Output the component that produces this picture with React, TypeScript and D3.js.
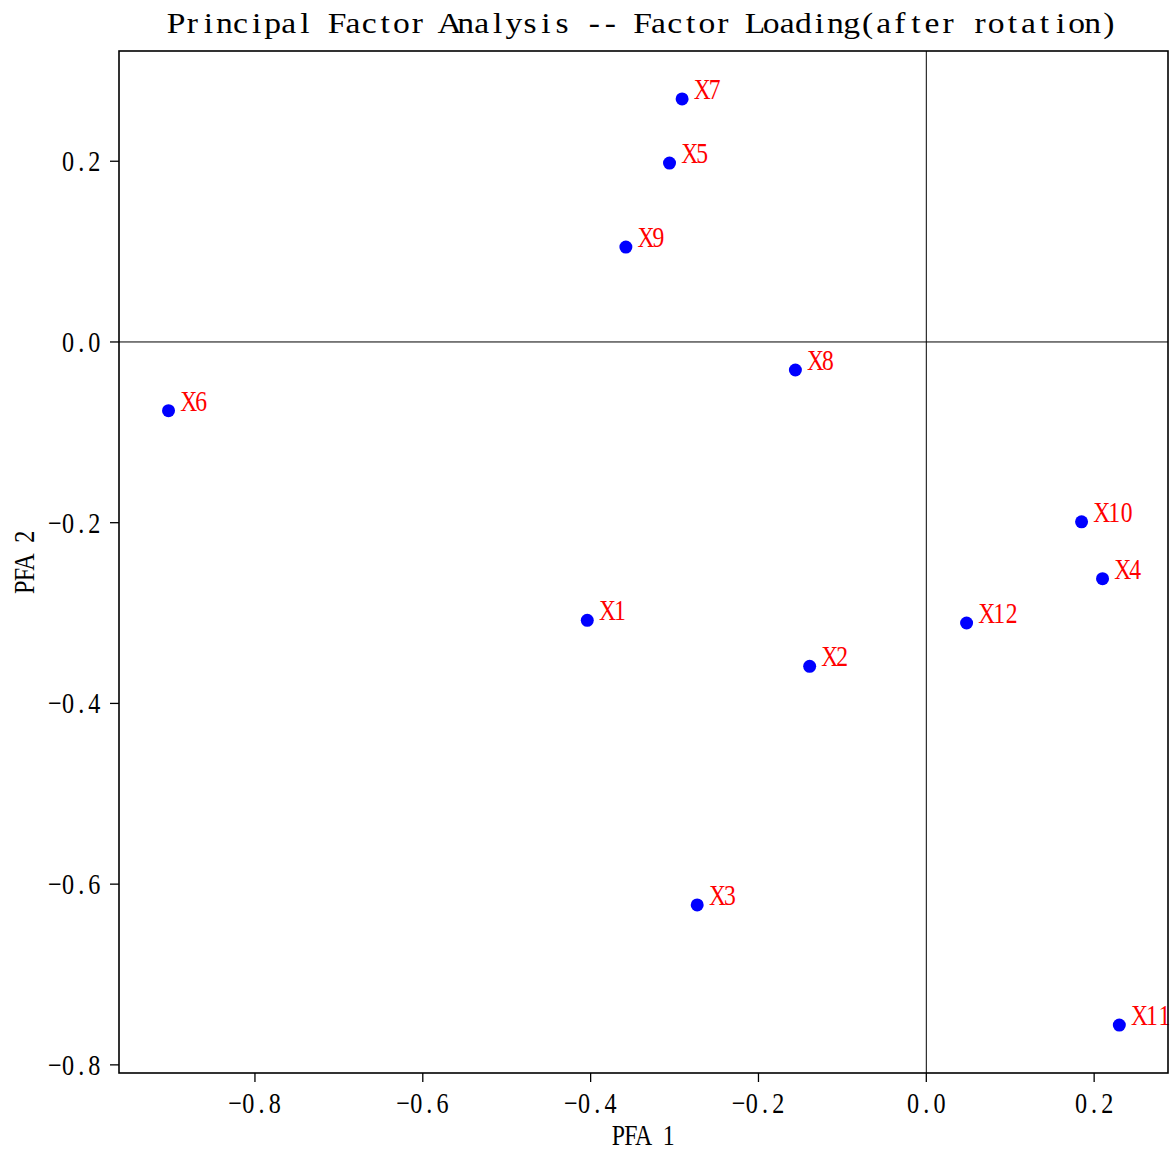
import React from "react";
import * as d3 from "d3";

const labels = ["X1", "X2", "X3", "X4", "X5", "X6", "X7", "X8", "X9", "X10", "X11", "X12"];
const pfa1 = [-0.404, -0.139, -0.273, 0.21, -0.306, -0.903, -0.291, -0.156, -0.358, 0.185, 0.23, 0.048];
const pfa2 = [-0.308, -0.359, -0.623, -0.262, 0.198, -0.076, 0.269, -0.031, 0.105, -0.199, -0.756, -0.311];
const xTicks = [-0.8, -0.6, -0.4, -0.2, 0.0, 0.2];
const yTicks = [0.2, 0.0, -0.2, -0.4, -0.6, -0.8];

const W = 1173, H = 1151;
const L = 119, R = 1168, T = 51, B = 1073;
const FONT = "'Liberation Serif', 'DejaVu Serif', serif";

function fmt(v: number) {
  const s = v.toFixed(1);
  return s.replace("-", "\u2212");
}

type MTProps = {
  x: number;
  y: number;
  text: string;
  adv: number;
  size: number;
  sx: number;
  anchor?: "start" | "middle" | "end";
  fill?: string;
  rotate?: number;
};

// Monospaced layout: one <text>, each character centred in its own cell.
function MonoText({ x, y, text, adv, size, sx, anchor = "start", fill = "#000", rotate = 0 }: MTProps) {
  const chars = Array.from(text);
  const total = chars.length * adv;
  const start = anchor === "start" ? 0 : anchor === "middle" ? -total / 2 : -total;
  const xs = chars.map((_, i) => ((start + (i + 0.5) * adv) / sx).toFixed(2)).join(" ");
  return (
    <text
      transform={`translate(${x},${y}) rotate(${rotate}) scale(${sx},1)`}
      x={xs}
      y={0}
      textAnchor="middle"
      fontFamily={FONT}
      fontSize={size}
      fill={fill}
      style={{ whiteSpace: "pre" }}
    >
      {text}
    </text>
  );
}

export default function App() {
  const x = d3.scaleLinear().domain([-0.962, 0.288]).range([L, R]);
  const y = d3.scaleLinear().domain([-0.809, 0.322]).range([B, T]);
  const pts = labels.map((l, i) => ({ l, x: pfa1[i], y: pfa2[i] }));
  return (
    <svg width={W} height={H} style={{ position: "absolute", left: 0, top: 0, background: "#fff" }}>
      <rect x={0} y={0} width={W} height={H} fill="#fff" />
      <MonoText
        x={642.5}
        y={33}
        text="Principal Factor Analysis -- Factor Loading(after rotation)"
        adv={16.08}
        size={30}
        sx={1.12}
        anchor="middle"
      />
      <line x1={L} x2={R} y1={y(0)} y2={y(0)} stroke="#000" strokeWidth={1} />
      <line x1={x(0)} x2={x(0)} y1={T} y2={B} stroke="#000" strokeWidth={1} />
      {pts.map((p) => (
        <g key={p.l}>
          <circle cx={x(p.x)} cy={y(p.y)} r={6.5} fill="#0000ff" />
          <MonoText x={x(p.x) + 14} y={y(p.y)} text={p.l} adv={12.4} size={29.5} sx={0.8} fill="#ff0000" />
        </g>
      ))}
      <rect x={L} y={T} width={R - L} height={B - T} fill="none" stroke="#000" strokeWidth={1.6} />
      {xTicks.map((t) => (
        <g key={"x" + t}>
          <line x1={x(t)} x2={x(t)} y1={B} y2={B + 9} stroke="#000" strokeWidth={1.3} />
          <MonoText x={x(t)} y={1113} text={fmt(t)} adv={13.2} size={29.5} sx={0.82} anchor="middle" />
        </g>
      ))}
      {yTicks.map((t) => (
        <g key={"y" + t}>
          <line x1={L - 9} x2={L} y1={y(t)} y2={y(t)} stroke="#000" strokeWidth={1.3} />
          <MonoText x={101} y={y(t) + 10} text={fmt(t)} adv={13.2} size={29.5} sx={0.82} anchor="end" />
        </g>
      ))}
      <MonoText x={643.5} y={1145} text="PFA 1" adv={12.6} size={29} sx={0.82} anchor="middle" />
      <MonoText x={34} y={(T + B) / 2} text="PFA 2" adv={12.6} size={29.5} sx={0.82} anchor="middle" rotate={-90} />
    </svg>
  );
}
